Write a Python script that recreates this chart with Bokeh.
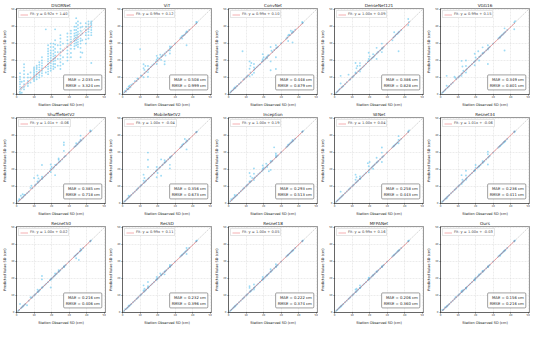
import numpy as np
from bokeh.plotting import figure
from bokeh.layouts import gridplot
from bokeh.models import Label, Legend, LegendItem, Range1d, FixedTicker
from bokeh.embed import file_html
from bokeh.resources import INLINE

MODELS = ["DSORNet", "ViT", "ConvNet", "DenseNet121", "VGG16",
          "ShuffleNetV2", "MobileNetV2", "Inception", "SENet", "Resnet34",
          "Resnet50", "ResSD", "Resnet18", "MFPANet", "Ours"]
FIT_SLOPE = [0.92, 0.99, 0.99, 1.00, 0.99, 1.01, 1.00, 1.00, 1.00, 1.01, 1.00, 0.99, 1.00, 0.99, 1.00]
FIT_INTERCEPT = [1.40, 0.12, 0.10, 0.09, 0.15, -0.06, -0.04, 0.19, 0.04, -0.06, 0.02, 0.11, 0.05, 0.16, -0.03]
MAE = [2.035, 0.508, 0.448, 0.386, 0.349, 0.385, 0.356, 0.293, 0.258, 0.236, 0.216, 0.232, 0.222, 0.206, 0.156]
RMSE = [3.324, 0.999, 0.879, 0.828, 0.801, 0.718, 0.673, 0.513, 0.443, 0.411, 0.406, 0.396, 0.374, 0.360, 0.216]
TICKS = [0, 10, 20, 30, 40, 50]
AX_MAX = 50.7

# DSORNet (own sample)
X_DSOR = [2, 2, 2, 2, 2, 3, 3, 3, 4.3, 4.3, 4.3, 4.3, 4.3, 6.5, 6.5, 6.5, 8, 8, 8,
          10, 10, 10, 10, 10, 11.5, 11.5, 11.5, 11.5, 13, 13, 13, 13,
          14.5, 14.5, 14.5, 14.5, 14.5, 16.7, 16.7, 16.7,
          18, 18, 18, 18, 18, 18, 19.5, 19.5, 19.5, 19.5, 19.5, 19.5,
          21, 21, 21, 21, 21, 22, 22, 22, 22, 22, 22, 23.5, 23.5, 23.5, 23.5,
          25, 25, 25, 25, 25, 25, 26.5, 26.5, 26.5, 26.5, 29, 29, 29, 29, 29,
          31, 31, 31, 31, 31, 33, 33, 33, 33, 33, 34, 34, 34, 34, 34, 34,
          35, 35, 35, 35, 35, 36.5, 36.5, 36.5, 36.5, 36.5, 36.5,
          37.5, 37.5, 37.5, 37.5, 39.5, 39.5, 39.5, 39.5, 41, 41, 41, 41,
          42.6, 42.6, 42.6, 42.6, 42.6,
          2, 2, 2, 2, 4.3, 4.3, 4.3, 4.3, 6.5, 6.5, 10, 10, 10, 10,
          11.5, 11.5, 11.5, 13, 13, 13, 14.5, 14.5, 14.5,
          18, 18, 18, 18, 18, 18, 19.5, 19.5, 19.5, 19.5, 19.5,
          21, 21, 21, 21, 21, 22, 22, 22, 22, 25, 25, 25, 25, 25,
          29, 29, 29, 29, 31, 31, 31, 31, 33, 33, 33, 33, 34, 34, 34, 34,
          35, 35, 35, 35, 35, 36.5, 36.5, 36.5, 36.5, 39.5, 39.5, 39.5,
          41, 41, 41, 42.6, 42.6, 42.6]
Y_DSOR = [0.5, 3, 6, 9, 12.6, 1, 4, 7.5, 3, 6, 10, 14, 17.8, 5, 8, 12, 7, 10, 13,
          8, 10, 12, 14, 16, 9, 12, 15, 17, 10, 13, 16, 19,
          11, 14, 17, 20, 22, 13, 16, 38.4,
          12, 15, 18, 21, 24, 27, 14, 17, 20, 23, 26, 30,
          15, 18, 21, 24, 28, 16, 20, 23, 27, 32, 38.4, 17, 21, 25, 29,
          15, 19, 23, 27, 31, 35, 18, 22, 26, 30, 20, 24, 28, 32, 36,
          22, 27, 31, 34, 37.6, 27, 30, 33, 36, 40, 29, 32, 35, 38, 42, 45,
          28, 31, 34, 37, 41, 22, 25, 30, 33, 37.6, 42,
          24.6, 32, 36, 40, 30, 35, 38, 42, 33, 37, 40, 43,
          18.6, 35, 38, 41, 43,
          1.5, 4.5, 7.5, 10.5, 4.5, 8, 12, 16, 6.5, 10, 9, 11, 13, 15,
          10.5, 13.5, 16, 11.5, 14.5, 17.5, 12.5, 15.5, 18.5,
          13.5, 16.5, 19.5, 22.5, 25.5, 29, 15.5, 18.5, 21.5, 24.5, 28,
          16.5, 19.5, 22.5, 26, 30, 18, 21.5, 25, 29.5, 17, 21, 25, 29, 33,
          22, 26, 30, 34, 24.5, 29, 32.5, 36, 28.5, 31.5, 34.5, 38, 30.5, 33.5, 36.5, 40,
          29.5, 32.5, 35.5, 39, 43, 27.5, 31.5, 35, 39.5, 32.5, 36.5, 40,
          35, 38.5, 41.5, 36.5, 39.5, 42]

# shared station observations for the other models
OBS = [1.0, 1.5, 2.0, 2.5, 3.0, 3.5, 3.5, 4.0, 4.5, 5.0,
       6.0, 7.0, 8.0, 8.5, 9.0, 10.0, 10.5, 11.0,
       12.0, 12.0, 12.0, 12.5, 12.5, 13.0, 13.5,
       14.5, 14.5, 14.5, 14.5, 15.0, 16.0,
       17.0, 18.0, 19.0, 19.5, 19.5, 19.5, 20.0, 20.0,
       21.0, 21.5, 22.0, 22.0, 22.5, 23.0,
       24.0, 24.0, 24.0, 24.5, 25.0, 26.0,
       27.0, 27.0, 27.0, 27.0, 27.5, 28.0, 30.0,
       33.0, 33.5, 34.0, 34.0, 34.5, 35.0, 35.5,
       36.0, 36.5, 36.5, 36.5, 37.0, 38.0,
       42.0, 42.0, 42.5]

PRED_VIT = [1.3, 2.2, 1.8, 3.4, 3.0, 4.6, 3.2, 5.2, 4.3, 5.8,
            6.4, 7.8, 8.0, 9.5, 9.1, 26.7, 11.2, 11.0,
            10.2, 15.5, 17.8, 12.6, 14.5, 16.8, 13.5,
            10.5, 14.6, 16.8, 13.2, 15.1, 16.2,
            17.2, 18.1, 19.4, 22.8, 18.0, 20.5, 21.5, 19.8,
            21.2, 23.5, 20.4, 22.1, 22.6, 23.3,
            19.5, 17.8, 24.2, 23.0, 25.1, 26.0,
            24.2, 28.3, 26.0, 27.1, 27.5, 28.2, 30.1,
            33.2, 33.8, 34.5, 33.0, 34.6, 35.0, 35.3,
            36.2, 29.0, 36.6, 37.1, 37.0, 38.1,
            42.7, 41.8, 42.6]
PRED_CONV = [1.2, 1.8, 2.3, 2.6, 3.4, 3.6, 4.2, 4.0, 4.8, 5.1,
             6.2, 7.1, 25.5, 8.7, 9.2, 10.1, 10.6, 11.3,
             10.8, 15.2, 19.5, 13.0, 17.0, 18.6, 11.7,
             14.5, 16.0, 12.8, 18.0, 15.2, 16.1,
             17.1, 17.8, 19.3, 23.8, 20.8, 19.6, 22.0, 20.1,
             21.0, 21.8, 22.3, 21.5, 23.0, 23.2,
             19.5, 28.0, 14.3, 25.8, 25.0, 26.2,
             15.0, 29.0, 22.0, 27.2, 27.6, 28.0, 30.2,
             33.0, 33.6, 34.8, 31.5, 35.2, 35.0, 37.6,
             36.3, 30.7, 36.5, 37.2, 37.0, 38.2,
             42.7, 42.0, 42.4]
PRED_DENSE = [1.1, 1.6, 2.1, 2.7, 3.2, 11.0, 6.5, 4.1, 4.6, 5.0,
              6.1, 7.2, 11.7, 8.6, 9.0, 10.2, 10.5, 11.1,
              13.0, 18.6, 12.2, 15.5, 12.6, 16.8, 13.8,
              14.6, 17.0, 13.5, 18.5, 15.1, 16.0,
              17.0, 18.2, 19.5, 24.6, 21.0, 19.7, 22.5, 20.2,
              21.1, 21.6, 23.8, 22.0, 22.4, 23.1,
              24.1, 27.5, 21.0, 24.8, 25.2, 26.0,
              26.8, 30.0, 25.0, 27.3, 27.4, 28.1, 30.0,
              32.0, 33.5, 36.7, 34.0, 34.5, 35.3, 35.6,
              36.0, 25.5, 36.8, 36.5, 37.2, 38.0,
              41.0, 44.5, 42.8]
PRED_VGG = [1.0, 1.5, 2.0, 2.5, 3.1, 11.0, 5.2, 4.0, 4.5, 5.0,
            6.0, 7.0, 10.5, 9.8, 9.0, 10.0, 10.5, 11.0,
            11.0, 19.8, 12.1, 16.5, 12.5, 14.0, 13.5,
            13.0, 20.0, 14.5, 16.8, 15.0, 16.1,
            17.0, 18.0, 19.0, 24.0, 17.2, 19.5, 21.8, 20.0,
            21.0, 25.5, 22.1, 20.0, 22.5, 23.0,
            24.0, 27.8, 24.3, 24.5, 25.0, 26.0,
            18.0, 29.0, 27.0, 26.5, 27.5, 28.0, 30.0,
            33.0, 33.5, 34.1, 33.6, 34.5, 35.1, 35.4,
            36.0, 39.0, 25.9, 36.5, 37.0, 38.0,
            42.5, 38.5, 43.2]
PRED_SHUFFLE = [1.5, 2.5, 2.4, 4.6, 3.3, 5.5, 3.6, 4.3, 5.0, 5.2,
                6.1, 7.0, 9.2, 10.5, 9.0, 15.0, 10.6, 11.2,
                13.0, 16.5, 12.0, 14.8, 12.6, 13.2, 13.8,
                22.7, 14.6, 15.8, 14.5, 15.2, 16.0,
                17.0, 18.0, 19.1, 23.0, 18.5, 20.4, 20.0, 21.5,
                21.0, 21.6, 16.7, 22.7, 22.6, 23.1,
                24.2, 26.5, 25.8, 24.6, 25.1, 26.0,
                36.0, 34.5, 31.0, 27.2, 27.8, 28.1, 30.1,
                33.3, 33.8, 35.5, 34.2, 34.8, 35.2, 36.0,
                36.4, 40.0, 37.0, 37.6, 37.2, 38.3,
                43.0, 42.4, 42.7]
PRED_MOBILE = [1.2, 1.5, 2.0, 2.6, 3.0, 3.5, 4.6, 4.0, 4.5, 5.1,
               6.0, 7.0, 8.0, 8.6, 9.1, 10.0, 10.6, 11.0,
               12.0, 17.0, 13.5, 12.5, 15.0, 13.0, 13.6,
               30.0, 25.8, 21.5, 14.5, 15.0, 16.0,
               17.0, 18.0, 19.0, 15.5, 21.5, 19.6, 18.0, 20.0,
               21.0, 21.5, 26.0, 16.4, 22.5, 23.0,
               24.0, 25.5, 24.2, 24.5, 25.0, 26.0,
               22.8, 20.7, 27.0, 27.1, 27.5, 28.0, 30.0,
               33.0, 33.5, 34.0, 34.5, 35.0, 35.2, 38.0,
               36.0, 31.9, 36.5, 37.2, 37.0, 38.0,
               42.0, 42.0, 42.4]
PRED_INCEPTION = [1.3, 2.6, 2.2, 3.0, 3.2, 5.0, 3.8, 4.3, 4.7, 5.2,
                  6.2, 7.2, 8.2, 8.8, 9.2, 10.2, 10.8, 11.2,
                  13.0, 18.0, 12.3, 16.0, 12.8, 13.3, 15.0,
                  13.8, 20.7, 17.5, 14.8, 15.3, 16.2,
                  17.2, 18.2, 19.0, 22.4, 19.7, 20.5, 20.2, 21.0,
                  21.2, 23.5, 22.2, 21.5, 22.8, 19.0,
                  24.2, 25.0, 19.8, 24.8, 25.2, 33.1,
                  27.2, 28.5, 29.5, 27.4, 27.8, 28.3, 30.2,
                  33.2, 33.7, 34.2, 34.6, 34.8, 35.4, 35.8,
                  36.3, 37.5, 36.7, 36.8, 37.2, 38.2,
                  42.3, 42.2, 42.7]
PRED_SENET = [1.1, 1.6, 2.1, 2.6, 3.1, 7.0, 3.6, 4.1, 4.6, 5.1,
              6.1, 7.1, 8.1, 8.6, 9.1, 10.1, 10.6, 11.1,
              14.0, 17.0, 12.1, 15.5, 12.6, 13.1, 13.6,
              14.6, 16.0, 14.5, 14.6, 15.1, 16.1,
              17.1, 18.1, 23.8, 22.0, 18.4, 19.6, 24.5, 20.1,
              21.1, 21.6, 22.1, 20.5, 22.6, 23.1,
              24.1, 27.0, 24.1, 24.6, 25.1, 26.1,
              33.0, 24.5, 30.0, 27.1, 27.6, 28.1, 30.1,
              33.1, 33.6, 34.1, 34.1, 34.6, 35.1, 35.6,
              36.1, 39.7, 35.5, 37.5, 37.1, 38.1,
              42.1, 42.5, 43.0]
PRED_RES34 = [1.0, 1.5, 2.0, 2.5, 3.0, 3.0, 3.5, 4.0, 4.5, 5.0,
              6.0, 7.0, 8.0, 8.5, 9.0, 10.0, 10.5, 11.0,
              11.5, 16.7, 12.0, 14.0, 12.5, 13.0, 13.5,
              19.3, 14.0, 16.5, 14.5, 15.0, 16.0,
              17.0, 18.0, 19.0, 19.5, 19.5, 19.5, 21.0, 22.7,
              21.0, 21.5, 22.0, 22.0, 22.5, 23.0,
              24.0, 25.0, 24.0, 24.5, 25.0, 26.0,
              30.5, 29.0, 23.0, 27.0, 27.5, 28.0, 30.0,
              33.0, 33.5, 34.0, 34.0, 34.5, 35.0, 35.5,
              36.0, 36.5, 36.5, 36.5, 37.0, 38.0,
              42.5, 42.0, 42.5]
PRED_RES50 = [1.0, 1.5, 5.0, 2.5, 3.0, 3.5, 3.5, 4.0, 4.5, 5.0,
              4.3, 7.0, 9.0, 8.5, 9.0, 10.0, 10.5, 11.0,
              12.0, 13.5, 12.0, 12.5, 12.5, 13.0, 13.5,
              21.5, 19.5, 14.7, 14.5, 15.0, 16.0,
              17.0, 18.0, 19.0, 14.7, 19.5, 19.5, 20.0, 20.0,
              21.0, 21.5, 23.0, 22.0, 22.5, 23.0,
              24.0, 24.0, 25.0, 24.5, 25.0, 26.0,
              27.0, 27.0, 27.0, 27.0, 27.5, 28.0, 30.0,
              33.0, 33.5, 34.0, 32.0, 34.5, 35.0, 31.0,
              36.0, 37.5, 36.5, 36.5, 37.0, 38.0,
              42.0, 42.0, 42.5]
PRED_RESSD = [1.0, 2.0, 2.0, 2.5, 3.0, 3.5, 4.0, 4.0, 4.5, 5.0,
              6.0, 7.0, 8.0, 8.5, 9.0, 10.0, 10.5, 11.0,
              12.0, 16.0, 13.0, 14.0, 12.5, 13.0, 13.5,
              14.5, 18.0, 15.5, 14.5, 15.0, 16.0,
              17.0, 18.0, 19.0, 21.0, 19.5, 19.5, 20.0, 20.0,
              21.0, 23.0, 22.0, 22.0, 22.5, 23.0,
              24.0, 24.0, 22.5, 24.5, 25.0, 26.0,
              27.0, 27.0, 28.0, 27.0, 27.5, 28.0, 30.0,
              33.0, 33.5, 34.0, 34.0, 34.5, 35.0, 35.5,
              36.0, 34.5, 36.5, 38.0, 37.0, 38.0,
              42.0, 42.0, 42.5]
PRED_RES18 = [1.0, 1.5, 2.0, 2.5, 3.0, 3.5, 3.5, 4.0, 4.5, 5.0,
              6.0, 7.0, 8.0, 8.5, 9.0, 10.0, 10.5, 11.0,
              12.0, 14.5, 15.5, 12.5, 12.5, 13.0, 13.5,
              14.5, 16.5, 14.5, 13.5, 15.0, 16.0,
              17.0, 18.0, 19.0, 19.5, 21.0, 19.5, 20.0, 20.0,
              21.0, 21.5, 22.0, 22.0, 22.5, 23.0,
              24.0, 25.5, 24.0, 24.5, 25.0, 26.0,
              27.0, 28.5, 27.0, 27.0, 27.5, 28.0, 30.0,
              33.0, 33.5, 34.0, 34.0, 34.5, 35.0, 35.5,
              36.0, 36.5, 36.5, 36.5, 37.0, 38.0,
              42.0, 42.0, 42.5]
PRED_MFPA = [1.0, 1.5, 2.0, 2.5, 3.0, 3.5, 3.5, 4.0, 4.5, 5.0,
             6.0, 7.0, 8.0, 8.5, 9.0, 10.0, 10.5, 11.0,
             12.0, 13.5, 12.0, 14.0, 12.5, 13.0, 13.5,
             14.5, 16.0, 14.5, 14.5, 15.0, 16.0,
             17.0, 18.0, 19.0, 19.5, 20.5, 19.5, 20.0, 20.0,
             21.0, 21.5, 22.0, 22.0, 22.5, 23.0,
             24.0, 24.0, 24.0, 24.5, 25.0, 26.0,
             27.0, 27.0, 27.0, 27.0, 27.5, 28.0, 30.0,
             33.0, 33.5, 34.0, 34.0, 34.5, 35.0, 35.5,
             36.0, 36.5, 36.5, 36.5, 37.0, 38.0,
             42.0, 42.0, 42.5]
PRED_OURS = [1.5, 1.5, 2.0, 3.0, 3.0, 3.5, 3.5, 4.0, 4.5, 5.0,
             6.0, 7.0, 8.0, 9.0, 9.0, 10.0, 10.5, 11.0,
             12.0, 12.5, 12.0, 13.0, 12.5, 13.0, 13.5,
             14.5, 14.0, 14.5, 14.5, 15.0, 16.0,
             17.0, 18.0, 19.0, 19.5, 19.5, 19.0, 20.0, 20.5,
             21.0, 21.5, 22.0, 22.5, 22.5, 23.0,
             24.0, 24.5, 24.0, 24.5, 25.0, 26.0,
             27.0, 27.0, 27.0, 27.0, 27.5, 28.0, 30.0,
             33.0, 33.5, 34.0, 33.5, 34.5, 35.0, 35.5,
             36.0, 36.5, 36.5, 36.5, 37.0, 38.0,
             42.0, 42.0, 42.5]

XS = [X_DSOR] + [OBS] * 14
YS = [Y_DSOR, PRED_VIT, PRED_CONV, PRED_DENSE, PRED_VGG, PRED_SHUFFLE, PRED_MOBILE,
      PRED_INCEPTION, PRED_SENET, PRED_RES34, PRED_RES50, PRED_RESSD, PRED_RES18,
      PRED_MFPA, PRED_OURS]

FONT = "DejaVu Sans"
figs = []
for i, name in enumerate(MODELS):
    x = np.array(XS[i], dtype=float)
    y = np.array(YS[i], dtype=float)
    p = figure(width=106, height=109, x_range=Range1d(0, AX_MAX), y_range=Range1d(0, AX_MAX),
               output_backend="svg", toolbar_location=None, title=name,
               min_border_left=10, min_border_right=1, min_border_top=8, min_border_bottom=0)
    p.title.text_font = FONT
    p.title.text_font_size = "4.2px"
    p.title.text_font_style = "normal"
    p.title.align = "center"
    p.title.standoff = 1
    p.title.offset = 0
    p.title.text_color = "#222222"
    p.outline_line_color = "#333333"
    p.outline_line_width = 0.5
    p.xaxis.axis_label = "Station Observed SD (cm)"
    p.yaxis.axis_label = "Predicted Value SD (cm)"
    for ax in (p.xaxis[0], p.yaxis[0]):
        ax.ticker = FixedTicker(ticks=TICKS)
        ax.major_label_text_font = FONT
        ax.major_label_text_font_size = "2.6px"
        ax.major_label_text_color = "#444444"
        ax.axis_label_text_font = FONT
        ax.axis_label_text_font_size = "3.5px"
        ax.axis_label_text_font_style = "normal"
        ax.axis_label_text_color = "#222222"
        ax.major_tick_out = 1
        ax.major_tick_in = 0
        ax.minor_tick_out = 0
        ax.minor_tick_in = 0
        ax.major_tick_line_width = 0.5
        ax.axis_line_width = 0.5
        ax.axis_line_color = "#333333"
        ax.major_label_standoff = 1
        ax.axis_label_standoff = 1
    p.grid.grid_line_color = "#d0d0d0"
    p.grid.grid_line_width = 0.4
    p.grid.grid_line_dash = "2 1"
    p.scatter(x, y, size=1.9, marker="circle", fill_color="#5ec3ee", fill_alpha=0.6, line_color=None)
    p.line([0, AX_MAX], [0, AX_MAX], line_color="#999999", line_alpha=0.7, line_width=0.6, line_dash="2 1")
    fx = np.array([x.min(), x.max()])
    fy = FIT_SLOPE[i] * fx + FIT_INTERCEPT[i]
    r = p.line(fx, fy, line_color="#e8464b", line_alpha=0.55, line_width=0.8)
    lab = f"Fit: y = {FIT_SLOPE[i]:.2f}x + {FIT_INTERCEPT[i]:.2f}"
    leg = Legend(items=[LegendItem(label=lab, renderers=[r])], location="top_left",
                 label_text_font=FONT, label_text_font_size="3.6px", glyph_width=8, glyph_height=3,
                 label_height=3, label_standoff=2, padding=1, spacing=0, margin=2,
                 border_line_color="#cccccc", border_line_width=0.5, background_fill_alpha=0.85)
    p.add_layout(leg)
    txt = f"MAE = {MAE[i]:.3f} cm\nRMSE = {RMSE[i]:.3f} cm"
    p.add_layout(Label(x=48.6, y=2.7, text=txt, text_align="right", text_baseline="bottom",
                       text_font=FONT, text_font_size="3.8px", text_color="#222222",
                       background_fill_color="white", background_fill_alpha=0.85,
                       border_line_color="#444444", border_line_width=0.5, padding=2, border_radius=1))
    figs.append(p)

grid = gridplot(figs, ncols=5, toolbar_location=None)
open("out.html", "w").write(file_html(grid, INLINE))
